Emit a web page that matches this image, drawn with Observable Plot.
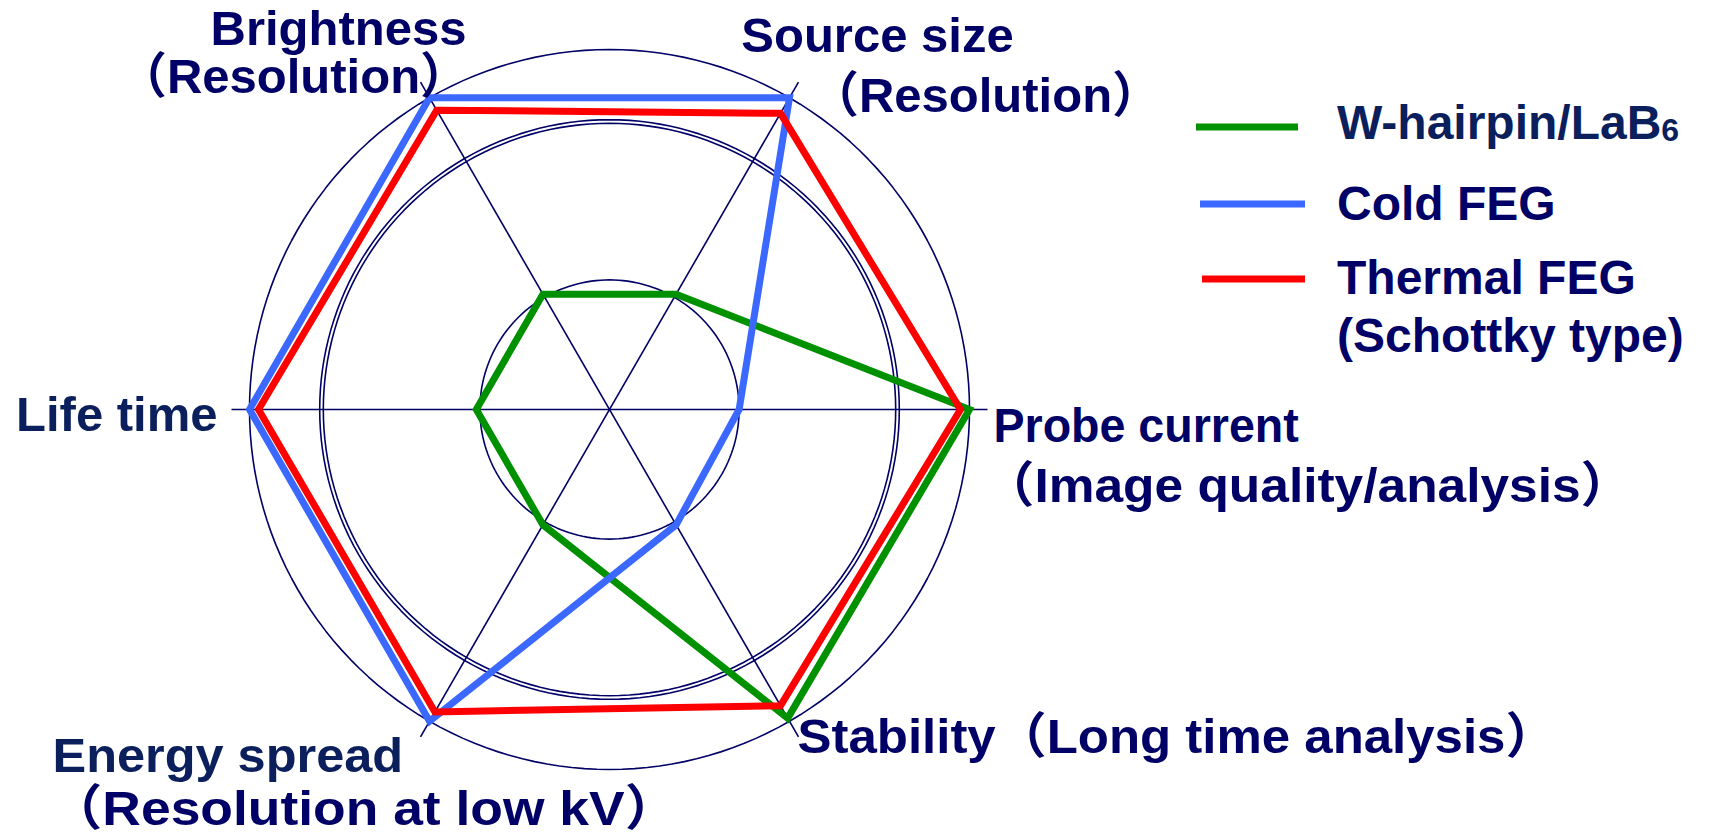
<!DOCTYPE html>
<html>
<head>
<meta charset="utf-8">
<script src="https://cdn.jsdelivr.net/npm/d3@7"></script>
<script src="https://cdn.jsdelivr.net/npm/@observablehq/plot@0.6"></script>
<style>
  html, body { margin: 0; padding: 0; background: #ffffff; }
  #wrap { position: relative; width: 1727px; height: 835px; overflow: hidden; background: #fff; }
  #wrap > svg { position: absolute; left: 0; top: 0; }
</style>
</head>
<body>
<div id="wrap"></div>
<script>
// ---------- data ----------
const axes = ["Brightness", "Source size", "Probe current", "Stability", "Energy spread", "Life time"];
const axisLabelLines = [
  ["Brightness", "（Resolution）"],
  ["Source size", "（Resolution）"],
  ["Probe current", "（Image quality/analysis）"],
  ["Stability（Long time analysis）"],
  ["Energy spread", "（Resolution at low kV）"],
  ["Life time"]
];
const seriesNames = ["W-hairpin/LaB6", "Cold FEG", "Thermal FEG (Schottky type)"];
const wHairpin   = [0.37, 0.37, 1.00, 0.99, 0.37, 0.37];
const coldFEG    = [1.00, 1.00, 0.36, 0.37, 1.00, 1.00];
const thermalFEG = [0.96, 0.95, 0.975, 0.95, 0.97, 0.975];
const rings = [0.36, 0.795, 0.805, 1.0];

// ---------- styling / layout ----------
const W = 1727, H = 835, R = 360, CX = 609, CY = 409;
const NAVY = "#000066", NAVY2 = "#0a1f5c";
const seriesColors = ["#009100", "#3b68ff", "#ff0000"];
const FONT = "'Liberation Sans', Arial, 'Noto Sans CJK JP', sans-serif";
const spokeLen = 1.05;
const angleOf = i => (120 - 60 * i) * Math.PI / 180;

// label line layout: offset (px) from the spoke end of its axis, plus horizontal stretch
const labelLayout = [
  [{dx: -82, dy: -37, anchor: "middle", fill: NAVY, k: 1}, {dx: -127, dy: 11, anchor: "middle", fill: NAVY, k: 1}],
  [{dx: 79, dy: -30, anchor: "middle", fill: NAVY, k: 1}, {dx: 187, dy: 30, anchor: "middle", fill: NAVY, k: 1}],
  [{dx: 6, dy: 32, anchor: "start", fill: NAVY, k: 0.95}, {dx: 320, dy: 92, anchor: "middle", fill: NAVY, k: 1.05}],
  [{dx: -1, dy: 16, anchor: "start", fill: NAVY, k: 1.04}],
  [{dx: -368, dy: 35, anchor: "start", fill: NAVY2, k: 1.03}, {dx: -57, dy: 88, anchor: "middle", fill: NAVY, k: 1.09}],
  [{dx: -14, dy: 21, anchor: "end", fill: NAVY2, k: 1}]
];

// ---------- derived tables ----------
const polyPoints = vals => vals.map((v, i) => ({axis: axes[i], x: v * Math.cos(angleOf(i)), y: v * Math.sin(angleOf(i))}));
const ringPoints = rings.flatMap((r, k) => d3.range(0, 361, 2).map(a => ({ring: k, x: r * Math.cos(a * Math.PI / 180), y: r * Math.sin(a * Math.PI / 180)})));
const spokes = axes.slice(0, 3).map((a, i) => ({
  x1: -spokeLen * Math.cos(angleOf(i)), y1: -spokeLen * Math.sin(angleOf(i)),
  x2: spokeLen * Math.cos(angleOf(i)), y2: spokeLen * Math.sin(angleOf(i))
}));
const spokeEnds = axes.map((a, i) => ({axis: a, x: spokeLen * Math.cos(angleOf(i)), y: spokeLen * Math.sin(angleOf(i))}));

const stretch = new Map();
const labelMarks = axisLabelLines.flatMap((lines, i) => lines.map((t, j) => {
  const L = labelLayout[i][j];
  stretch.set(t + "|" + i, L.k);
  return Plot.text([spokeEnds[i]], {
    x: "x", y: "y", text: () => t,
    dx: L.dx, dy: L.dy, textAnchor: L.anchor, lineAnchor: "bottom",
    fill: L.fill, fontSize: 49, fontWeight: "bold", fontFamily: FONT,
    className: "lbl-" + i
  });
}));

const lineOpts = (c) => ({x: "x", y: "y", curve: "linear-closed", stroke: c, strokeWidth: 7, strokeLinejoin: "miter", strokeMiterlimit: 10});

const chart = Plot.plot({
  width: W, height: H, margin: 0,
  x: {domain: [-CX / R, (W - CX) / R], range: [0, W], axis: null},
  y: {domain: [-(H - CY) / R, CY / R], range: [H, 0], axis: null},
  style: {background: "transparent", fontFamily: FONT, overflow: "visible"},
  marks: [
    Plot.line(ringPoints, {x: "x", y: "y", z: "ring", stroke: NAVY, strokeWidth: 1.6}),
    Plot.link(spokes, {x1: "x1", y1: "y1", x2: "x2", y2: "y2", stroke: NAVY, strokeWidth: 1.6}),
    Plot.line(polyPoints(wHairpin), lineOpts(seriesColors[0])),
    Plot.line(polyPoints(coldFEG), lineOpts(seriesColors[1])),
    Plot.line(polyPoints(thermalFEG), lineOpts(seriesColors[2])),
    ...labelMarks
  ]
});
document.getElementById("wrap").appendChild(chart);

// horizontal stretch of label lines (matches the reference's text widths)
axisLabelLines.forEach((lines, i) => {
  d3.select(chart).selectAll(".lbl-" + i + " text").each(function () {
    const k = stretch.get(this.textContent + "|" + i);
    if (k && k !== 1) {
      const len = this.getComputedTextLength();
      this.setAttribute("textLength", len * k);
      this.setAttribute("lengthAdjust", "spacingAndGlyphs");
    }
  });
});

// ---------- legend ----------
const legendItems = [
  {name: seriesNames[0], color: seriesColors[0], lineY: 127, x1: 1196, x2: 1298, textY: [139], fill: NAVY2},
  {name: seriesNames[1], color: seriesColors[1], lineY: 204, x1: 1200, x2: 1305, textY: [220], fill: NAVY},
  {name: seriesNames[2], color: seriesColors[2], lineY: 279, x1: 1202, x2: 1305, textY: [294, 352], fill: NAVY}
];
const leg = d3.select("#wrap").append("svg").attr("width", W).attr("height", H)
  .style("font-family", FONT).style("font-weight", "bold").style("font-size", "48px");
legendItems.forEach(d => {
  leg.append("line").attr("x1", d.x1).attr("x2", d.x2).attr("y1", d.lineY).attr("y2", d.lineY)
    .attr("stroke", d.color).attr("stroke-width", 7);
  if (d.name === "W-hairpin/LaB6") {
    const t = leg.append("text").attr("x", 1337).attr("y", d.textY[0]).attr("fill", d.fill);
    t.append("tspan").text("W-hairpin/LaB");
    t.append("tspan").attr("font-size", "32px").attr("dy", 2).text("6");
  } else if (d.name.startsWith("Thermal")) {
    leg.append("text").attr("x", 1337).attr("y", d.textY[0]).attr("fill", d.fill).text("Thermal FEG");
    leg.append("text").attr("x", 1337).attr("y", d.textY[1]).attr("fill", d.fill).text("(Schottky type)");
  } else {
    leg.append("text").attr("x", 1337).attr("y", d.textY[0]).attr("fill", d.fill).text(d.name);
  }
});
</script>
</body>
</html>
